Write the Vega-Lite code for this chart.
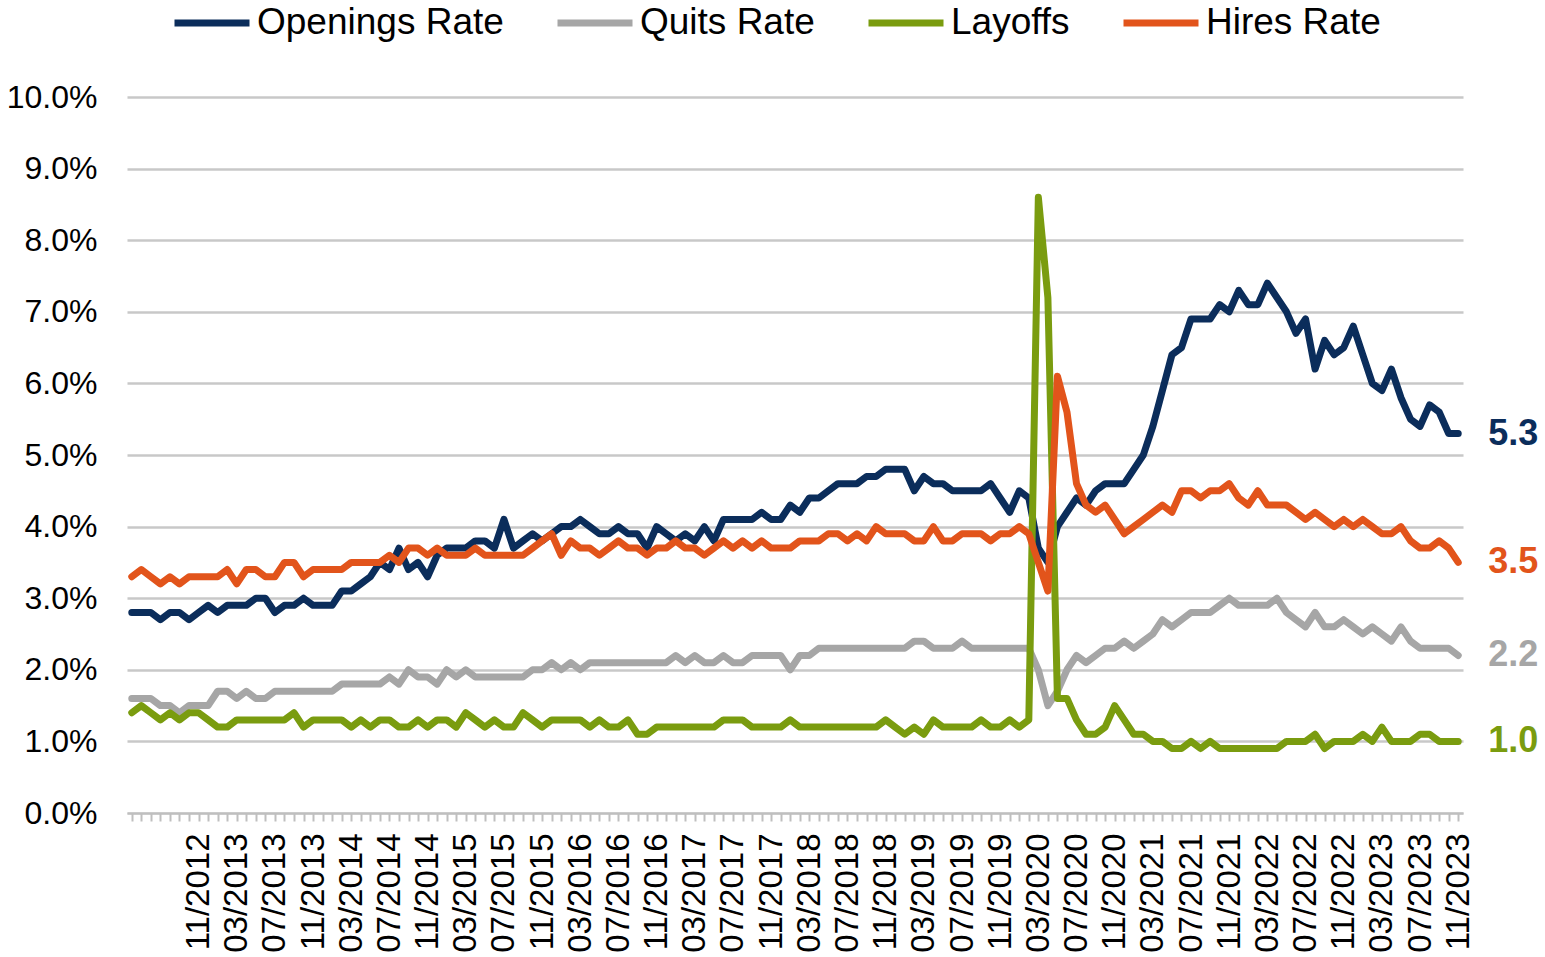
{
  "$schema": "https://vega.github.io/schema/vega-lite/v6.json",
  "width": 1336,
  "height": 716,
  "autosize": {"type": "none"},
  "padding": {"left": 127, "top": 97, "right": 82, "bottom": 144},
  "background": "white",
  "config": {"view": {"stroke": null}, "font": "Liberation Sans"},
  "data": {"values": [
    {"month":"04/2012","Openings Rate":2.8,"Quits Rate":1.6,"Layoffs":1.4,"Hires Rate":3.3},
    {"month":"05/2012","Openings Rate":2.8,"Quits Rate":1.6,"Layoffs":1.5,"Hires Rate":3.4},
    {"month":"06/2012","Openings Rate":2.8,"Quits Rate":1.6,"Layoffs":1.4,"Hires Rate":3.3},
    {"month":"07/2012","Openings Rate":2.7,"Quits Rate":1.5,"Layoffs":1.3,"Hires Rate":3.2},
    {"month":"08/2012","Openings Rate":2.8,"Quits Rate":1.5,"Layoffs":1.4,"Hires Rate":3.3},
    {"month":"09/2012","Openings Rate":2.8,"Quits Rate":1.4,"Layoffs":1.3,"Hires Rate":3.2},
    {"month":"10/2012","Openings Rate":2.7,"Quits Rate":1.5,"Layoffs":1.4,"Hires Rate":3.3},
    {"month":"11/2012","Openings Rate":2.8,"Quits Rate":1.5,"Layoffs":1.4,"Hires Rate":3.3},
    {"month":"12/2012","Openings Rate":2.9,"Quits Rate":1.5,"Layoffs":1.3,"Hires Rate":3.3},
    {"month":"01/2013","Openings Rate":2.8,"Quits Rate":1.7,"Layoffs":1.2,"Hires Rate":3.3},
    {"month":"02/2013","Openings Rate":2.9,"Quits Rate":1.7,"Layoffs":1.2,"Hires Rate":3.4},
    {"month":"03/2013","Openings Rate":2.9,"Quits Rate":1.6,"Layoffs":1.3,"Hires Rate":3.2},
    {"month":"04/2013","Openings Rate":2.9,"Quits Rate":1.7,"Layoffs":1.3,"Hires Rate":3.4},
    {"month":"05/2013","Openings Rate":3.0,"Quits Rate":1.6,"Layoffs":1.3,"Hires Rate":3.4},
    {"month":"06/2013","Openings Rate":3.0,"Quits Rate":1.6,"Layoffs":1.3,"Hires Rate":3.3},
    {"month":"07/2013","Openings Rate":2.8,"Quits Rate":1.7,"Layoffs":1.3,"Hires Rate":3.3},
    {"month":"08/2013","Openings Rate":2.9,"Quits Rate":1.7,"Layoffs":1.3,"Hires Rate":3.5},
    {"month":"09/2013","Openings Rate":2.9,"Quits Rate":1.7,"Layoffs":1.4,"Hires Rate":3.5},
    {"month":"10/2013","Openings Rate":3.0,"Quits Rate":1.7,"Layoffs":1.2,"Hires Rate":3.3},
    {"month":"11/2013","Openings Rate":2.9,"Quits Rate":1.7,"Layoffs":1.3,"Hires Rate":3.4},
    {"month":"12/2013","Openings Rate":2.9,"Quits Rate":1.7,"Layoffs":1.3,"Hires Rate":3.4},
    {"month":"01/2014","Openings Rate":2.9,"Quits Rate":1.7,"Layoffs":1.3,"Hires Rate":3.4},
    {"month":"02/2014","Openings Rate":3.1,"Quits Rate":1.8,"Layoffs":1.3,"Hires Rate":3.4},
    {"month":"03/2014","Openings Rate":3.1,"Quits Rate":1.8,"Layoffs":1.2,"Hires Rate":3.5},
    {"month":"04/2014","Openings Rate":3.2,"Quits Rate":1.8,"Layoffs":1.3,"Hires Rate":3.5},
    {"month":"05/2014","Openings Rate":3.3,"Quits Rate":1.8,"Layoffs":1.2,"Hires Rate":3.5},
    {"month":"06/2014","Openings Rate":3.5,"Quits Rate":1.8,"Layoffs":1.3,"Hires Rate":3.5},
    {"month":"07/2014","Openings Rate":3.4,"Quits Rate":1.9,"Layoffs":1.3,"Hires Rate":3.6},
    {"month":"08/2014","Openings Rate":3.7,"Quits Rate":1.8,"Layoffs":1.2,"Hires Rate":3.5},
    {"month":"09/2014","Openings Rate":3.4,"Quits Rate":2.0,"Layoffs":1.2,"Hires Rate":3.7},
    {"month":"10/2014","Openings Rate":3.5,"Quits Rate":1.9,"Layoffs":1.3,"Hires Rate":3.7},
    {"month":"11/2014","Openings Rate":3.3,"Quits Rate":1.9,"Layoffs":1.2,"Hires Rate":3.6},
    {"month":"12/2014","Openings Rate":3.6,"Quits Rate":1.8,"Layoffs":1.3,"Hires Rate":3.7},
    {"month":"01/2015","Openings Rate":3.7,"Quits Rate":2.0,"Layoffs":1.3,"Hires Rate":3.6},
    {"month":"02/2015","Openings Rate":3.7,"Quits Rate":1.9,"Layoffs":1.2,"Hires Rate":3.6},
    {"month":"03/2015","Openings Rate":3.7,"Quits Rate":2.0,"Layoffs":1.4,"Hires Rate":3.6},
    {"month":"04/2015","Openings Rate":3.8,"Quits Rate":1.9,"Layoffs":1.3,"Hires Rate":3.7},
    {"month":"05/2015","Openings Rate":3.8,"Quits Rate":1.9,"Layoffs":1.2,"Hires Rate":3.6},
    {"month":"06/2015","Openings Rate":3.7,"Quits Rate":1.9,"Layoffs":1.3,"Hires Rate":3.6},
    {"month":"07/2015","Openings Rate":4.1,"Quits Rate":1.9,"Layoffs":1.2,"Hires Rate":3.6},
    {"month":"08/2015","Openings Rate":3.7,"Quits Rate":1.9,"Layoffs":1.2,"Hires Rate":3.6},
    {"month":"09/2015","Openings Rate":3.8,"Quits Rate":1.9,"Layoffs":1.4,"Hires Rate":3.6},
    {"month":"10/2015","Openings Rate":3.9,"Quits Rate":2.0,"Layoffs":1.3,"Hires Rate":3.7},
    {"month":"11/2015","Openings Rate":3.8,"Quits Rate":2.0,"Layoffs":1.2,"Hires Rate":3.8},
    {"month":"12/2015","Openings Rate":3.9,"Quits Rate":2.1,"Layoffs":1.3,"Hires Rate":3.9},
    {"month":"01/2016","Openings Rate":4.0,"Quits Rate":2.0,"Layoffs":1.3,"Hires Rate":3.6},
    {"month":"02/2016","Openings Rate":4.0,"Quits Rate":2.1,"Layoffs":1.3,"Hires Rate":3.8},
    {"month":"03/2016","Openings Rate":4.1,"Quits Rate":2.0,"Layoffs":1.3,"Hires Rate":3.7},
    {"month":"04/2016","Openings Rate":4.0,"Quits Rate":2.1,"Layoffs":1.2,"Hires Rate":3.7},
    {"month":"05/2016","Openings Rate":3.9,"Quits Rate":2.1,"Layoffs":1.3,"Hires Rate":3.6},
    {"month":"06/2016","Openings Rate":3.9,"Quits Rate":2.1,"Layoffs":1.2,"Hires Rate":3.7},
    {"month":"07/2016","Openings Rate":4.0,"Quits Rate":2.1,"Layoffs":1.2,"Hires Rate":3.8},
    {"month":"08/2016","Openings Rate":3.9,"Quits Rate":2.1,"Layoffs":1.3,"Hires Rate":3.7},
    {"month":"09/2016","Openings Rate":3.9,"Quits Rate":2.1,"Layoffs":1.1,"Hires Rate":3.7},
    {"month":"10/2016","Openings Rate":3.7,"Quits Rate":2.1,"Layoffs":1.1,"Hires Rate":3.6},
    {"month":"11/2016","Openings Rate":4.0,"Quits Rate":2.1,"Layoffs":1.2,"Hires Rate":3.7},
    {"month":"12/2016","Openings Rate":3.9,"Quits Rate":2.1,"Layoffs":1.2,"Hires Rate":3.7},
    {"month":"01/2017","Openings Rate":3.8,"Quits Rate":2.2,"Layoffs":1.2,"Hires Rate":3.8},
    {"month":"02/2017","Openings Rate":3.9,"Quits Rate":2.1,"Layoffs":1.2,"Hires Rate":3.7},
    {"month":"03/2017","Openings Rate":3.8,"Quits Rate":2.2,"Layoffs":1.2,"Hires Rate":3.7},
    {"month":"04/2017","Openings Rate":4.0,"Quits Rate":2.1,"Layoffs":1.2,"Hires Rate":3.6},
    {"month":"05/2017","Openings Rate":3.8,"Quits Rate":2.1,"Layoffs":1.2,"Hires Rate":3.7},
    {"month":"06/2017","Openings Rate":4.1,"Quits Rate":2.2,"Layoffs":1.3,"Hires Rate":3.8},
    {"month":"07/2017","Openings Rate":4.1,"Quits Rate":2.1,"Layoffs":1.3,"Hires Rate":3.7},
    {"month":"08/2017","Openings Rate":4.1,"Quits Rate":2.1,"Layoffs":1.3,"Hires Rate":3.8},
    {"month":"09/2017","Openings Rate":4.1,"Quits Rate":2.2,"Layoffs":1.2,"Hires Rate":3.7},
    {"month":"10/2017","Openings Rate":4.2,"Quits Rate":2.2,"Layoffs":1.2,"Hires Rate":3.8},
    {"month":"11/2017","Openings Rate":4.1,"Quits Rate":2.2,"Layoffs":1.2,"Hires Rate":3.7},
    {"month":"12/2017","Openings Rate":4.1,"Quits Rate":2.2,"Layoffs":1.2,"Hires Rate":3.7},
    {"month":"01/2018","Openings Rate":4.3,"Quits Rate":2.0,"Layoffs":1.3,"Hires Rate":3.7},
    {"month":"02/2018","Openings Rate":4.2,"Quits Rate":2.2,"Layoffs":1.2,"Hires Rate":3.8},
    {"month":"03/2018","Openings Rate":4.4,"Quits Rate":2.2,"Layoffs":1.2,"Hires Rate":3.8},
    {"month":"04/2018","Openings Rate":4.4,"Quits Rate":2.3,"Layoffs":1.2,"Hires Rate":3.8},
    {"month":"05/2018","Openings Rate":4.5,"Quits Rate":2.3,"Layoffs":1.2,"Hires Rate":3.9},
    {"month":"06/2018","Openings Rate":4.6,"Quits Rate":2.3,"Layoffs":1.2,"Hires Rate":3.9},
    {"month":"07/2018","Openings Rate":4.6,"Quits Rate":2.3,"Layoffs":1.2,"Hires Rate":3.8},
    {"month":"08/2018","Openings Rate":4.6,"Quits Rate":2.3,"Layoffs":1.2,"Hires Rate":3.9},
    {"month":"09/2018","Openings Rate":4.7,"Quits Rate":2.3,"Layoffs":1.2,"Hires Rate":3.8},
    {"month":"10/2018","Openings Rate":4.7,"Quits Rate":2.3,"Layoffs":1.2,"Hires Rate":4.0},
    {"month":"11/2018","Openings Rate":4.8,"Quits Rate":2.3,"Layoffs":1.3,"Hires Rate":3.9},
    {"month":"12/2018","Openings Rate":4.8,"Quits Rate":2.3,"Layoffs":1.2,"Hires Rate":3.9},
    {"month":"01/2019","Openings Rate":4.8,"Quits Rate":2.3,"Layoffs":1.1,"Hires Rate":3.9},
    {"month":"02/2019","Openings Rate":4.5,"Quits Rate":2.4,"Layoffs":1.2,"Hires Rate":3.8},
    {"month":"03/2019","Openings Rate":4.7,"Quits Rate":2.4,"Layoffs":1.1,"Hires Rate":3.8},
    {"month":"04/2019","Openings Rate":4.6,"Quits Rate":2.3,"Layoffs":1.3,"Hires Rate":4.0},
    {"month":"05/2019","Openings Rate":4.6,"Quits Rate":2.3,"Layoffs":1.2,"Hires Rate":3.8},
    {"month":"06/2019","Openings Rate":4.5,"Quits Rate":2.3,"Layoffs":1.2,"Hires Rate":3.8},
    {"month":"07/2019","Openings Rate":4.5,"Quits Rate":2.4,"Layoffs":1.2,"Hires Rate":3.9},
    {"month":"08/2019","Openings Rate":4.5,"Quits Rate":2.3,"Layoffs":1.2,"Hires Rate":3.9},
    {"month":"09/2019","Openings Rate":4.5,"Quits Rate":2.3,"Layoffs":1.3,"Hires Rate":3.9},
    {"month":"10/2019","Openings Rate":4.6,"Quits Rate":2.3,"Layoffs":1.2,"Hires Rate":3.8},
    {"month":"11/2019","Openings Rate":4.4,"Quits Rate":2.3,"Layoffs":1.2,"Hires Rate":3.9},
    {"month":"12/2019","Openings Rate":4.2,"Quits Rate":2.3,"Layoffs":1.3,"Hires Rate":3.9},
    {"month":"01/2020","Openings Rate":4.5,"Quits Rate":2.3,"Layoffs":1.2,"Hires Rate":4.0},
    {"month":"02/2020","Openings Rate":4.4,"Quits Rate":2.3,"Layoffs":1.3,"Hires Rate":3.9},
    {"month":"03/2020","Openings Rate":3.7,"Quits Rate":2.0,"Layoffs":8.6,"Hires Rate":3.5},
    {"month":"04/2020","Openings Rate":3.5,"Quits Rate":1.5,"Layoffs":7.2,"Hires Rate":3.1},
    {"month":"05/2020","Openings Rate":4.0,"Quits Rate":1.7,"Layoffs":1.6,"Hires Rate":6.1},
    {"month":"06/2020","Openings Rate":4.2,"Quits Rate":2.0,"Layoffs":1.6,"Hires Rate":5.6},
    {"month":"07/2020","Openings Rate":4.4,"Quits Rate":2.2,"Layoffs":1.3,"Hires Rate":4.6},
    {"month":"08/2020","Openings Rate":4.3,"Quits Rate":2.1,"Layoffs":1.1,"Hires Rate":4.3},
    {"month":"09/2020","Openings Rate":4.5,"Quits Rate":2.2,"Layoffs":1.1,"Hires Rate":4.2},
    {"month":"10/2020","Openings Rate":4.6,"Quits Rate":2.3,"Layoffs":1.2,"Hires Rate":4.3},
    {"month":"11/2020","Openings Rate":4.6,"Quits Rate":2.3,"Layoffs":1.5,"Hires Rate":4.1},
    {"month":"12/2020","Openings Rate":4.6,"Quits Rate":2.4,"Layoffs":1.3,"Hires Rate":3.9},
    {"month":"01/2021","Openings Rate":4.8,"Quits Rate":2.3,"Layoffs":1.1,"Hires Rate":4.0},
    {"month":"02/2021","Openings Rate":5.0,"Quits Rate":2.4,"Layoffs":1.1,"Hires Rate":4.1},
    {"month":"03/2021","Openings Rate":5.4,"Quits Rate":2.5,"Layoffs":1.0,"Hires Rate":4.2},
    {"month":"04/2021","Openings Rate":5.9,"Quits Rate":2.7,"Layoffs":1.0,"Hires Rate":4.3},
    {"month":"05/2021","Openings Rate":6.4,"Quits Rate":2.6,"Layoffs":0.9,"Hires Rate":4.2},
    {"month":"06/2021","Openings Rate":6.5,"Quits Rate":2.7,"Layoffs":0.9,"Hires Rate":4.5},
    {"month":"07/2021","Openings Rate":6.9,"Quits Rate":2.8,"Layoffs":1.0,"Hires Rate":4.5},
    {"month":"08/2021","Openings Rate":6.9,"Quits Rate":2.8,"Layoffs":0.9,"Hires Rate":4.4},
    {"month":"09/2021","Openings Rate":6.9,"Quits Rate":2.8,"Layoffs":1.0,"Hires Rate":4.5},
    {"month":"10/2021","Openings Rate":7.1,"Quits Rate":2.9,"Layoffs":0.9,"Hires Rate":4.5},
    {"month":"11/2021","Openings Rate":7.0,"Quits Rate":3.0,"Layoffs":0.9,"Hires Rate":4.6},
    {"month":"12/2021","Openings Rate":7.3,"Quits Rate":2.9,"Layoffs":0.9,"Hires Rate":4.4},
    {"month":"01/2022","Openings Rate":7.1,"Quits Rate":2.9,"Layoffs":0.9,"Hires Rate":4.3},
    {"month":"02/2022","Openings Rate":7.1,"Quits Rate":2.9,"Layoffs":0.9,"Hires Rate":4.5},
    {"month":"03/2022","Openings Rate":7.4,"Quits Rate":2.9,"Layoffs":0.9,"Hires Rate":4.3},
    {"month":"04/2022","Openings Rate":7.2,"Quits Rate":3.0,"Layoffs":0.9,"Hires Rate":4.3},
    {"month":"05/2022","Openings Rate":7.0,"Quits Rate":2.8,"Layoffs":1.0,"Hires Rate":4.3},
    {"month":"06/2022","Openings Rate":6.7,"Quits Rate":2.7,"Layoffs":1.0,"Hires Rate":4.2},
    {"month":"07/2022","Openings Rate":6.9,"Quits Rate":2.6,"Layoffs":1.0,"Hires Rate":4.1},
    {"month":"08/2022","Openings Rate":6.2,"Quits Rate":2.8,"Layoffs":1.1,"Hires Rate":4.2},
    {"month":"09/2022","Openings Rate":6.6,"Quits Rate":2.6,"Layoffs":0.9,"Hires Rate":4.1},
    {"month":"10/2022","Openings Rate":6.4,"Quits Rate":2.6,"Layoffs":1.0,"Hires Rate":4.0},
    {"month":"11/2022","Openings Rate":6.5,"Quits Rate":2.7,"Layoffs":1.0,"Hires Rate":4.1},
    {"month":"12/2022","Openings Rate":6.8,"Quits Rate":2.6,"Layoffs":1.0,"Hires Rate":4.0},
    {"month":"01/2023","Openings Rate":6.4,"Quits Rate":2.5,"Layoffs":1.1,"Hires Rate":4.1},
    {"month":"02/2023","Openings Rate":6.0,"Quits Rate":2.6,"Layoffs":1.0,"Hires Rate":4.0},
    {"month":"03/2023","Openings Rate":5.9,"Quits Rate":2.5,"Layoffs":1.2,"Hires Rate":3.9},
    {"month":"04/2023","Openings Rate":6.2,"Quits Rate":2.4,"Layoffs":1.0,"Hires Rate":3.9},
    {"month":"05/2023","Openings Rate":5.8,"Quits Rate":2.6,"Layoffs":1.0,"Hires Rate":4.0},
    {"month":"06/2023","Openings Rate":5.5,"Quits Rate":2.4,"Layoffs":1.0,"Hires Rate":3.8},
    {"month":"07/2023","Openings Rate":5.4,"Quits Rate":2.3,"Layoffs":1.1,"Hires Rate":3.7},
    {"month":"08/2023","Openings Rate":5.7,"Quits Rate":2.3,"Layoffs":1.1,"Hires Rate":3.7},
    {"month":"09/2023","Openings Rate":5.6,"Quits Rate":2.3,"Layoffs":1.0,"Hires Rate":3.8},
    {"month":"10/2023","Openings Rate":5.3,"Quits Rate":2.3,"Layoffs":1.0,"Hires Rate":3.7},
    {"month":"11/2023","Openings Rate":5.3,"Quits Rate":2.2,"Layoffs":1.0,"Hires Rate":3.5}
  ]},
  "transform": [
    {"fold": ["Openings Rate", "Quits Rate", "Layoffs", "Hires Rate"], "as": ["series", "rate"]}
  ],
  "encoding": {
    "x": {
      "field": "month", "type": "ordinal", "sort": null,
      "scale": {"type": "point", "padding": 0.5},
      "axis": {
        "title": null, "labelAngle": -90, "labelFontSize": 33, "labelColor": "#000000",
        "labelExpr": "(indexof(['03','07','11'], slice(datum.label, 0, 2)) >= 0 && datum.label !== '07/2012') ? datum.label : ''",
        "labelOverlap": false, "labelPadding": 12, "labelFont": "Liberation Sans",
        "tickSize": 8, "tickColor": "#BFBFBF", "tickWidth": 2,
        "domainColor": "#BFBFBF", "domainWidth": 2, "grid": false
      }
    },
    "y": {
      "field": "rate", "type": "quantitative",
      "scale": {"domain": [0, 10], "nice": false},
      "axis": {
        "title": null, "values": [0,1,2,3,4,5,6,7,8,9,10],
        "labelExpr": "format(datum.value, '.1f') + '%'",
        "domain": false, "ticks": false, "grid": true,
        "gridColor": "#C8C8C8", "gridWidth": 2.5,
        "labelFontSize": 32, "labelPadding": 30, "labelColor": "#000000", "labelFont": "Liberation Sans"
      }
    }
  },
  "layer": [
    {
      "mark": {"type": "line", "strokeWidth": 7, "strokeJoin": "round", "strokeCap": "round"},
      "encoding": {
        "color": {
          "field": "series", "type": "nominal",
          "scale": {"domain": ["Openings Rate", "Quits Rate", "Layoffs", "Hires Rate"], "range": ["#0B2D5B", "#A6A6A6", "#7A9C0F", "#E2541B"]},
          "legend": {
            "orient": "none", "legendX": 44, "legendY": -115, "direction": "horizontal",
            "title": null, "symbolType": "stroke", "symbolSize": 5625, "symbolStrokeWidth": 7,
            "labelFontSize": 37, "labelFont": "Liberation Sans", "labelColor": "#000000", "labelLimit": 0,
            "labelOffset": 4, "columnPadding": 39, "padding": 0
          }
        }
      }
    },
    {
      "mark": {"type": "text", "align": "left", "baseline": "middle", "dx": 30, "fontSize": 36, "fontWeight": "bold", "font": "Liberation Sans"},
      "encoding": {
        "text": {"condition": {"test": "datum.month === '11/2023'", "field": "rate", "type": "quantitative", "format": ".1f"}, "value": ""},
        "color": {
          "field": "series", "type": "nominal",
          "scale": {"domain": ["Openings Rate", "Quits Rate", "Layoffs", "Hires Rate"], "range": ["#0B2D5B", "#A6A6A6", "#7A9C0F", "#E2541B"]},
          "legend": null
        }
      }
    }
  ]
}
